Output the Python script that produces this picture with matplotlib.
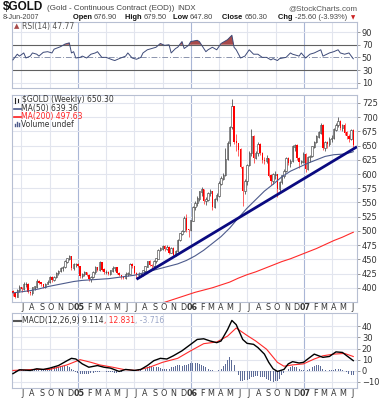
import numpy as np
import pandas as pd
import matplotlib
matplotlib.use('Agg')
from matplotlib import pyplot as plt
import matplotlib.dates as mdates
from matplotlib.lines import Line2D

# weekly bars, Fridays
weeks = pd.date_range('2004-06-04', '2007-06-08', freq='W-FRI')

first_open = 393.0
close = [
    391, 384, 396, 401, 397, 407, 407, 392, 391, 400, 402, 412, 409, 406, 402, 407, 410,
    418, 413, 419, 426, 429, 434, 436, 446, 451, 455, 434, 441, 441, 438,
    420, 424, 428, 422, 416, 419, 427, 436, 432, 445, 432, 427, 428, 424, 430, 435, 436,
    426, 422, 419, 418, 424, 425, 442, 438, 426, 422, 424, 424, 430, 437, 446, 440, 438,
    447, 451, 466, 469, 473, 468, 472, 462, 470, 458, 464, 484, 495, 499, 523, 502, 501, 518,
    542, 549, 557, 569, 573, 552, 555, 566, 569, 542, 556, 562, 583, 592, 598, 626, 654,
    682, 720, 657, 654, 643, 612, 570, 587, 616, 637, 666, 629, 637, 652, 637, 625, 623,
    627, 597, 587, 599, 599, 573, 586, 597, 605, 627, 619, 623, 648, 650, 628, 621, 622, 635,
    609, 630, 631, 648, 656, 666, 673, 686, 646, 655, 653, 662, 663, 678, 686, 693, 681,
    685, 673, 667, 661, 676.9, 650.3]
high = [
    396, 393, 397, 405, 402, 410, 411, 408, 395, 401, 404, 415, 413, 410, 407, 409, 413,
    420, 420, 421, 428, 431, 436, 439, 448, 453, 457, 456, 444, 443, 443,
    439, 426, 429, 428, 424, 421, 429, 438, 437, 447, 446, 434, 431, 430, 432, 438, 437,
    436, 428, 423, 421, 427, 428, 443, 444, 439, 427, 427, 426, 431, 439, 447, 448, 442,
    448, 453, 468, 472, 475, 475, 475, 473, 472, 471, 466, 486, 497, 502, 526, 530, 504, 520,
    544, 553, 562, 571, 577, 574, 560, 568, 574, 570, 558, 566, 587, 596, 602, 645, 658,
    685, 732, 718, 670, 655, 645, 615, 592, 618, 640, 679, 668, 640, 656, 655, 638, 630,
    634, 628, 600, 602, 605, 600, 588, 599, 608, 630, 630, 627, 651, 653, 652, 630, 625, 638,
    637, 632, 634, 650, 658, 669, 675, 690, 688, 658, 658, 666, 668, 681, 690, 700, 695,
    688, 689, 676, 670, 680, 679.5]
low = [
    385, 382, 383, 393, 392, 396, 402, 390, 388, 388, 396, 400, 406, 403, 399, 400, 406,
    409, 411, 412, 418, 422, 427, 430, 435, 444, 449, 432, 432, 437, 436,
    418, 418, 420, 420, 412, 410, 418, 425, 429, 430, 430, 425, 424, 422, 423, 428, 430,
    424, 420, 416, 415, 416, 421, 424, 435, 424, 418, 420, 419, 420, 428, 436, 438, 435,
    436, 444, 450, 464, 466, 465, 466, 460, 461, 456, 456, 463, 483, 493, 498, 498, 490, 500,
    517, 536, 544, 553, 562, 547, 546, 552, 562, 537, 540, 553, 560, 581, 589, 597, 625,
    650, 680, 652, 640, 632, 610, 543, 565, 580, 614, 632, 620, 626, 632, 633, 620, 618,
    620, 595, 581, 583, 591, 560, 568, 583, 593, 603, 616, 613, 621, 640, 624, 611, 618, 620,
    603, 607, 622, 630, 645, 654, 663, 670, 643, 640, 646, 650, 656, 662, 676, 683, 678,
    676, 668, 662, 656, 660, 647.8]

# moving averages (week index, value)
ma50_wk = list(range(0, 157, 4)) + [157]
ma50 = [391, 393, 395, 398, 402, 405, 408, 411, 413, 414, 415, 416, 418, 420, 422, 426,
        430, 434, 438, 442, 448, 456, 466, 478, 490, 505, 523, 540, 555, 570, 582, 595,
        605, 612, 619, 625, 631, 634, 635, 638, 639.36]
ma200_wk = list(range(64, 157, 4)) + [157]
ma200 = [366, 372, 377, 382, 387, 392, 396, 400, 405, 410, 417, 423, 428, 434, 440, 446,
         451, 457, 463, 469, 476, 483, 489, 496, 497.63]

# trend line drawn on the chart
trend_dates = ['2005-07-08', '2007-06-20']
trend_prices = [415, 648]

rsi_wk = [0, 2, 3, 5, 6, 8, 9, 11, 12, 14, 16, 18, 19, 22, 24, 26, 27, 28, 29, 31, 32, 34,
          36, 38, 39, 41, 43, 46, 47, 49, 52, 53, 55, 57, 59, 60, 62, 64, 66, 68, 70, 72,
          73, 75, 76, 78, 79, 81, 82, 85, 86, 89, 90, 92, 94, 96, 99, 101, 102, 103, 105,
          107, 109, 111, 113, 115, 117, 119, 120, 122, 123, 126, 128, 129, 132, 133, 135,
          137, 139, 142, 143, 146, 148, 150, 151, 153, 155, 157]
rsi = [46, 55, 52, 57, 49, 52, 57, 55, 52, 58, 59, 57, 63, 67, 71, 73, 57, 59, 49, 50, 52,
       49, 55, 57, 59, 50, 50, 46, 45, 48, 52, 57, 49, 47, 50, 57, 62, 64, 66, 72, 69, 70,
       57, 64, 66, 75, 64, 69, 75, 77, 75, 59, 62, 66, 62, 72, 78, 85, 66, 62, 49, 52, 62,
       55, 55, 50, 50, 46, 48, 45, 48, 50, 57, 55, 52, 57, 49, 55, 57, 62, 52, 57, 59, 62,
       57, 55, 57, 47.77]

macd_wk = [0, 3, 8, 11, 14, 17, 21, 25, 27, 29, 32, 35, 39, 42, 45, 49, 52, 56, 59, 62, 65,
           68, 71, 74, 78, 82, 85, 88, 91, 94, 96, 99, 101, 103, 106, 108, 111, 113, 116,
           118, 120, 122, 125, 127, 129, 132, 134, 136, 139, 141, 143, 146, 149, 152, 154, 157]
macd = [-2.6, 0.9, 0.3, 1.8, 1.2, 2.4, 4.7, 9.1, 11.2, 10.6, 6.2, 3.2, 4.7, 3.2, 2.4, -0.6,
        1.2, 0.3, 1.2, 4.7, 9.1, 11.2, 10.6, 13.5, 18, 23.8, 28.2, 28.8, 26.8, 25.3, 26.8,
        37, 45.3, 41.5, 28.2, 24.7, 23.8, 20.9, 15, 7.6, 1.8, -0.6, 1.2, 6.2, 8.2, 7, 7.6,
        10.6, 15, 13.5, 12.1, 12.9, 17, 16.5, 13.5, 9.114]
signal_wk = [0, 9, 17, 25, 31, 36, 40, 46, 51, 57, 63, 69, 76, 82, 88, 94, 99, 103, 108,
             112, 117, 122, 125, 129, 134, 139, 143, 148, 153, 157]
signal = [0.3, 1.2, 1.2, 5.3, 10, 7.6, 5.3, 3.2, 1.2, 0.3, 3.2, 7.6, 11.2, 18, 24.4, 25.9,
          31.2, 38.5, 31.8, 26.8, 19.4, 7.6, 4.1, 5.3, 6.2, 10.6, 13.5, 15, 15.6, 12.831]
hist = [-2, -1, 0, 0.5,
        0.5, 1, 1, 0.5, 0.5, 1, 1, 0.5, 1, 1, 1.5, 1.5, 2, 2,
        2.5, 3, 3, 3.5, 4, 4, 4, 4, 3.5, 2, 0.5,
        -1, -2, -3, -3, -3, -2.5, -2.5, -2, -2,
        -1.5, -1, -1, -0.5, -0.5, -1, -1, -1,
        -1.5, -2, -2, -1.5, -1, -0.5, -0.5,
        0, 0, 0.5, 0, 0.5, 1, 1, 1.5,
        2, 3, 4, 4, 3.5, 3, 3, 2.5,
        2, 2, 1.5, 2, 3, 3.5,
        4, 5, 5, 4.5, 5, 5.5,
        6, 7, 7, 7, 7, 6, 5, 4, 3,
        2, 1, 0.5, 0, 0, 1, 2, 4,
        6, 10, 12, 10, 5, 0, -4,
        -9, -9, -8, -8, -7, -6, -6,
        -5, -5, -6, -6, -6,
        -7, -8, -9, -10, -9, -9, -7,
        -4, -2, 0, 2, 3, 4, 3, 3, 2,
        1, 0.5, 0, 1, 2, 3, 4, 5, 5, 4,
        2, 1, 0, 0.5, 1, 1, 1.5, 2, 1.5, 1,
        -0.5, -1.5, -2.5, -3.5, -3.7]

# ---------------------------------------------------------------------------
W, H = 385, 400
fig = plt.figure(figsize=(W / 100, H / 100), dpi=100)
fig.patch.set_facecolor('white')


def box(x0, y0, x1, y1):
    return [x0 / W, 1 - y1 / H, (x1 - x0) / W, (y1 - y0) / H]


ax_rsi = fig.add_axes(box(12, 22, 357, 88))
ax = fig.add_axes(box(12, 95, 357, 302))
ax_macd = fig.add_axes(box(12, 313, 357, 388))

xw = mdates.date2num(weeks)
xlim = mdates.date2num(pd.to_datetime(['2004-06-01', '2007-06-20']))
grid_c = '#e2e5ee'
year_c = '#a9b6d6'
edge_c = '#b7bfd2'
txt_c = '#333333'

quarters = pd.date_range('2004-07-01', '2007-06-20', freq='QS-JAN')
months = pd.date_range('2004-07-01', '2007-06-01', freq='MS')

for a in (ax_rsi, ax, ax_macd):
    a.set_xlim(*xlim)
    for q in quarters:
        a.axvline(mdates.date2num(q), color=year_c if q.month == 1 else grid_c,
                  lw=0.8, zorder=0)
    a.yaxis.tick_right()
    a.tick_params(axis='y', length=2, width=0.6, color='#888888', pad=1.5,
                  labelsize=6, labelcolor=txt_c)
    for s in a.spines.values():
        s.set_color(edge_c)
        s.set_linewidth(0.8)
    a.set_facecolor('white')

for a in (ax, ax_macd):
    a.set_xticks(mdates.date2num(months) + 4)
    labs = [('%02d' % (m.year % 100)) if m.month == 1 else 'JFMAMJJASOND'[m.month - 1]
            for m in months]
    a.set_xticklabels(labs, ha='center', fontsize=5.8, color=txt_c)
    for m, t in zip(months, a.get_xticklabels()):
        if m.month == 1:
            t.set_fontweight('bold')
    a.tick_params(axis='x', length=0, pad=1)
ax_rsi.set_xticks([])

# ---- RSI panel
rw = mdates.date2num(weeks[rsi_wk])
rv = np.array(rsi, dtype=float)
ax_rsi.set_ylim(1.5, 106)
ax_rsi.set_yticks([10, 30, 50, 70, 90])
for v in (10, 90):
    ax_rsi.axhline(v, color=grid_c, lw=0.8, zorder=0)
ax_rsi.axhline(70, color='#606060', lw=0.8)
ax_rsi.axhline(30, color='#606060', lw=0.8)
ax_rsi.axhline(50, color='#8a93ad', lw=0.7, ls=(0, (6, 2, 1, 2)))
ax_rsi.fill_between(rw, rv, 70, where=rv > 70, interpolate=True, color='#a84a4a',
                    lw=0, zorder=2)
ax_rsi.plot(rw, rv, color='#3d4a78', lw=0.7, zorder=3)

# ---- price panel
ax.set_ylim(375, 739)
ax.set_yticks(np.arange(400, 726, 25))
for v in np.arange(400, 726, 25):
    ax.axhline(v, color=grid_c, lw=0.8, zorder=0)
c = np.array(close, dtype=float)
o = np.r_[first_open, c[:-1]]
hi = np.maximum(np.array(high, dtype=float), np.maximum(o, c))
lo = np.minimum(np.array(low, dtype=float), np.minimum(o, c))
up = c >= o
ax.vlines(xw[up], lo[up], hi[up], color='#333333', lw=0.5, zorder=2)
ax.vlines(xw[~up], lo[~up], hi[~up], color='#ff2020', lw=0.5, zorder=2)
ax.bar(xw[up], (c - o)[up] + 0.5, bottom=o[up], width=4.5, facecolor='white',
       edgecolor='#333333', lw=0.4, zorder=3)
ax.bar(xw[~up], (o - c)[~up] + 0.5, bottom=c[~up], width=4.5, color='#ff0000',
       lw=0, zorder=3)
ax.plot(mdates.date2num(weeks[ma50_wk]), ma50, color='#4d5b8c', lw=0.8, zorder=4)
ax.plot(mdates.date2num(weeks[ma200_wk]), ma200, color='#ff2a2a', lw=0.8, zorder=4)
ax.plot(mdates.date2num(pd.to_datetime(trend_dates)), trend_prices, color='#0a0a80',
        lw=2.0, solid_capstyle='butt', zorder=5)

# ---- MACD panel
ax_macd.set_ylim(-15.5, 52)
ax_macd.set_yticks([-10, 0, 10, 20, 30, 40])
for v in (-10, 0, 10, 20, 30, 40):
    ax_macd.axhline(v, color=grid_c, lw=0.8, zorder=0)
ax_macd.bar(xw, hist, width=3.2, color='#5d6c98', lw=0, zorder=2)
ax_macd.plot(mdates.date2num(weeks[signal_wk]), signal, color='#ff2a2a', lw=0.8, zorder=3)
ax_macd.plot(mdates.date2num(weeks[macd_wk]), macd, color='#000000', lw=1.0, zorder=4)

# ---- text in pixel coordinates
renderer = fig.canvas.get_renderer()


def ptext(x, y, s, size, color=txt_c, weight='normal', family='DejaVu Sans', ha='left'):
    return fig.text(x / W, 1 - y / H, s, va='center', ha=ha, fontsize=size, color=color,
                    fontweight=weight, family=family)


def seq(x, y, parts, size, family='DejaVu Sans'):
    for s, col, wt in parts:
        t = ptext(x, y, s, size, col, wt, family)
        x += t.get_window_extent(renderer=renderer).width
    return x


def pline(x0, y0, x1, y1, color, lw):
    fig.add_artist(Line2D([x0 / W, x1 / W], [1 - y0 / H, 1 - y1 / H], color=color, lw=lw))


ptext(3, 7.5, '$GOLD', 8.5, '#111111', 'bold', 'Liberation Sans')
ptext(47, 8.5, '(Gold - Continuous Contract (EOD))', 5.8, '#444444', family='Liberation Sans')
ptext(177, 8.5, 'INDX', 5.6, '#444444', family='Liberation Sans')
ptext(357, 8.5, '@StockCharts.com', 5.8, '#555555', family='Liberation Sans', ha='right')

ptext(3, 17.5, '8-Jun-2007', 5.2, '#444444', family='Liberation Sans')
head = [(73, 'Open', '676.90'), (125, 'High', '679.50'), (173, 'Low', '647.80'),
        (222, 'Close', '650.30'), (278, 'Chg', '-25.60 (-3.93%)')]
for hx, k, v in head:
    seq(hx, 17.5, [(k + ' ', '#111111', 'bold'), (v, '#444444', 'normal')], 5.4,
        'Liberation Sans')
ptext(351, 18, '\u25bc', 4, '#cc2222')

# RSI legend
ptext(14, 26.5, '\u25b2', 5, '#a84a4a')
ptext(22, 26.5, 'RSI(14) 47.77', 5.5, '#555555')

# price legend
pline(14.5, 97.5, 14.5, 102.5, '#222222', 0.8)
pline(17.5, 98.5, 17.5, 102, '#222222', 0.8)
ptext(22, 100, '$GOLD (Weekly) 650.30', 5.5, '#333333')
pline(14, 108.5, 20.5, 108.5, '#4d5b8c', 1.2)
ptext(21, 108.5, 'MA(50) 639.36', 5.5, '#333333')
pline(14, 116.5, 20.5, 116.5, '#ff2020', 1.2)
ptext(21, 116.5, 'MA(200) 497.63', 5.5, '#ff2020')
for bx, bh in ((14.5, 3), (16.5, 5), (18.5, 4)):
    pline(bx, 126.5, bx, 126.5 - bh, '#4d5b8c', 1.0)
ptext(21, 124.5, 'Volume undef', 5.5, '#333333')

# MACD legend
pline(14, 320.5, 20.5, 320.5, '#555555', 1.5)
seq(22, 320.5, [('MACD(12,26,9) 9.114', '#333333', 'normal'),
                (', 12.831', '#ff2a2a', 'normal'),
                (', -3.716', '#9aa6c8', 'normal')], 5.5)

fig.savefig('out.png', dpi=100)
